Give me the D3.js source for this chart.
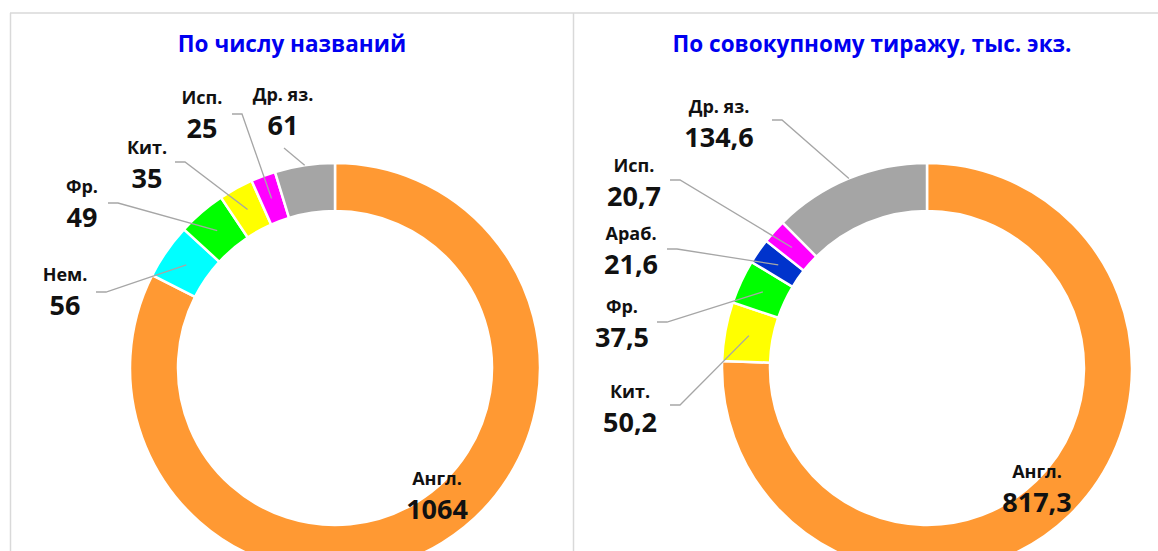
<!DOCTYPE html>
<html lang="ru">
<head>
    <meta charset="UTF-8">
    <title>Donuts</title>
    <script src="https://cdn.jsdelivr.net/npm/d3@7"></script>
    <style>
        body { margin: 0; background: #ffffff; }
        text { font-family: 'Open Sans', 'Noto Sans', sans-serif; font-weight: bold; }
    </style>
</head>
<body>
    <div id="canvas"></div>

    <script>

        // ---- data ----
        const titles = ['По числу названий', 'По совокупному тиражу, тыс. экз.'];

        const categories1 = ['Англ.', 'Нем.', 'Фр.', 'Кит.', 'Исп.', 'Др. яз.'];
        const values1 = [1064, 56, 49, 35, 25, 61];

        const categories2 = ['Англ.', 'Кит.', 'Фр.', 'Араб.', 'Исп.', 'Др. яз.'];
        const values2 = [817.3, 50.2, 37.5, 21.6, 20.7, 134.6];

        // ---- layout (label centres and leader starts, relative to donut centre) ----
        const labelLayout1 = [
            { x: 102, y: 111, leader: null },
            { x: -270, y: -93, leader: [-239, -76], end: 'mid' },
            { x: -253, y: -181, leader: [-227, -165], end: 'mid' },
            { x: -188, y: -220, leader: [-160, -206], end: 'mid' },
            { x: -133, y: -270, leader: [-103, -254], end: 'mid' },
            { x: -52, y: -273, leader: [-51, -220], end: 'outer', straight: true }
        ];
        const labelLayout2 = [
            { x: 110, y: 104, leader: null },
            { x: -297, y: 24, leader: [-257, 37], end: 'mid' },
            { x: -305, y: -61, leader: [-270, -46], end: 'mid' },
            { x: -296, y: -134, leader: [-260, -119], end: 'mid' },
            { x: -293, y: -202, leader: [-257, -188], end: 'mid' },
            { x: -208, y: -261, leader: [-155, -248], end: 'outer' }
        ];

        const width = 1158;
        const height = 551;
        const outerR = 205;
        const innerR = 157;

        const color = d3.scaleOrdinal()
            .domain(['Англ.', 'Нем.', 'Фр.', 'Кит.', 'Исп.', 'Араб.', 'Др. яз.'])
            .range(['#FF9933', '#00FFFF', '#00FF00', '#FFFF00', '#FF00FF', '#0033CC', '#A5A5A5']);

        const locale = d3.formatLocale({ decimal: ',', thousands: ' ', grouping: [3], currency: ['', ''] });

        const svg = d3.select('#canvas')
            .append('svg')
            .attr('width', width)
            .attr('height', height);

        // frame
        const frame = svg.append('g')
            .attr('stroke', '#D9D9D9')
            .attr('stroke-width', 1.5);
        frame.append('line').attr('x1', 10).attr('x2', width).attr('y1', 13).attr('y2', 13);
        frame.append('line').attr('x1', 10.5).attr('x2', 10.5).attr('y1', 13).attr('y2', height);
        frame.append('line').attr('x1', 573.5).attr('x2', 573.5).attr('y1', 13).attr('y2', height);

        const drawDonut = (opts) => {

            const g = svg.append('g')
                .attr('transform', `translate(${opts.cx}, ${opts.cy})`);

            const data = opts.categories.map((c, i) => ({ name: c, value: opts.values[i], layout: opts.layout[i] }));

            const pie = d3.pie()
                .sort(null)
                .value(d => d.value);

            const arcs = pie(data);

            const arc = d3.arc().innerRadius(innerR).outerRadius(outerR);
            const midArc = d3.arc().innerRadius((innerR + outerR) / 2).outerRadius((innerR + outerR) / 2);
            const edgeArc = d3.arc().innerRadius(outerR).outerRadius(outerR);

            g.selectAll('path.slice')
                .data(arcs)
                .enter()
                .append('path')
                .attr('class', 'slice')
                .attr('d', arc)
                .attr('fill', d => color(d.data.name))
                .attr('stroke', '#ffffff')
                .attr('stroke-width', 2.5);

            // leader lines
            g.selectAll('path.leader')
                .data(arcs.filter(d => d.data.layout.leader))
                .enter()
                .append('path')
                .attr('class', 'leader')
                .attr('fill', 'none')
                .attr('stroke', '#A6A6A6')
                .attr('stroke-width', 1.3)
                .attr('d', d => {
                    const l = d.data.layout;
                    const end = (l.end === 'outer' ? edgeArc : midArc).centroid(d);
                    const pts = l.straight
                        ? [l.leader, end]
                        : [l.leader, [l.leader[0] + 10, l.leader[1]], end];
                    return d3.line()(pts);
                });

            const fmt = locale.format(opts.format);

            const labels = g.selectAll('g.label')
                .data(arcs)
                .enter()
                .append('g')
                .attr('class', 'label')
                .attr('transform', d => `translate(${d.data.layout.x}, ${d.data.layout.y})`);

            labels.append('text')
                .attr('text-anchor', 'middle')
                .attr('dy', '0.35em')
                .attr('font-size', 18)
                .attr('fill', '#111111')
                .text(d => d.data.name);

            labels.append('text')
                .attr('text-anchor', 'middle')
                .attr('y', 31)
                .attr('dy', '0.35em')
                .attr('font-size', 27)
                .attr('fill', '#111111')
                .text(d => fmt(d.data.value));

            svg.append('text')
                .attr('x', opts.titleX)
                .attr('y', 44)
                .attr('dy', '0.35em')
                .attr('text-anchor', 'middle')
                .attr('font-size', 22.5)
                .attr('fill', '#0000F0')
                .text(opts.title);

        };

        drawDonut({
            cx: 335, cy: 368,
            categories: categories1, values: values1, layout: labelLayout1,
            format: '.0f', title: titles[0], titleX: 292
        });

        drawDonut({
            cx: 927, cy: 368,
            categories: categories2, values: values2, layout: labelLayout2,
            format: '.1f', title: titles[1], titleX: 872
        });

    </script>
</body>
</html>
